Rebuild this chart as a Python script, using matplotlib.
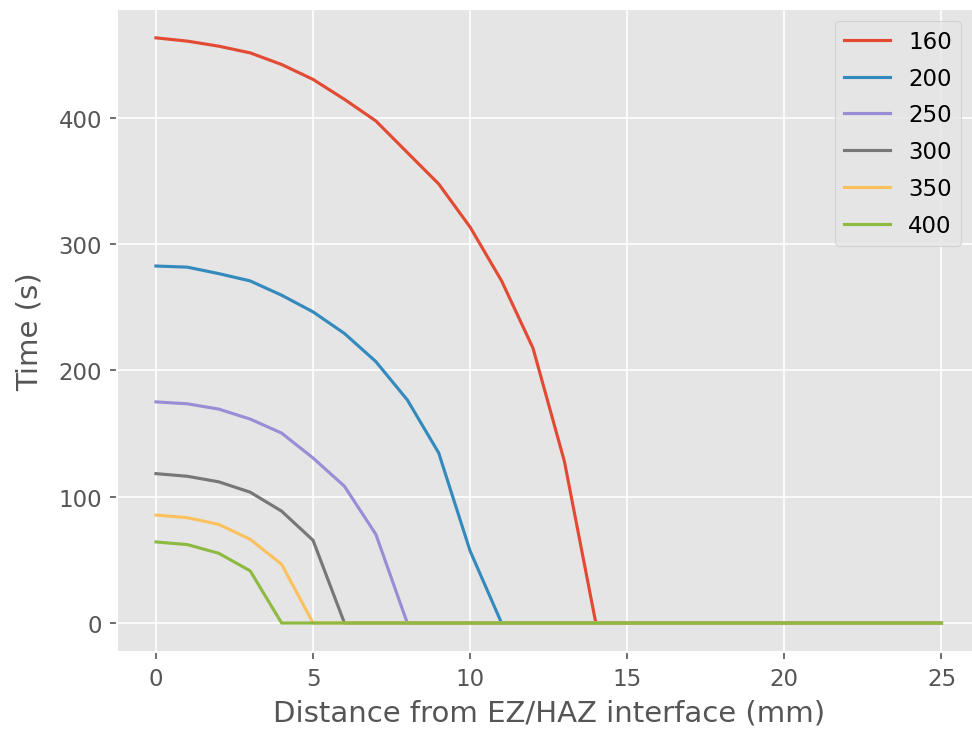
import numpy as np
import matplotlib
matplotlib.use("Agg")
import matplotlib.pyplot as plt

plt.style.use("ggplot")

# distance from the EZ/HAZ interface (mm)
dist = np.arange(0, 26)

# time (s) per series; zero beyond the last point
t160 = [463.4, 460.8, 456.8, 451.5, 442.3, 430.5, 414.7, 397.6, 372.6, 347.7,
        313.5, 271, 217.7, 128]
t200 = [282.7, 281.8, 276.7, 270.9, 259.6, 246.4, 229.3, 207, 176.7, 134.7, 57]
t250 = [175.1, 173.6, 169.4, 161.5, 150.4, 130.7, 108.3, 70.2]
t300 = [118.3, 116.2, 111.8, 103.6, 88.6, 65.5]
t350 = [85.5, 83.4, 78.1, 66.3, 46.5]
t400 = [64.2, 62.1, 55.2, 41.3]

labels = ["160", "200", "250", "300", "350", "400"]
series = [t160, t200, t250, t300, t350, t400]


def pad(vals):
    out = np.zeros(len(dist))
    out[:len(vals)] = vals
    return out


fig = plt.figure(figsize=(6.48, 4.893), dpi=150)
ax = fig.add_axes([0.120, 0.110, 0.889, 0.877])
for lab, vals in zip(labels, series):
    ax.plot(dist, pad(vals), label=lab)

ax.set_xlabel("Distance from EZ/HAZ interface (mm)", fontsize=14)
ax.set_ylabel("Time (s)", fontsize=14, labelpad=7)
ax.tick_params(labelsize=11)
ax.legend(fontsize=11, labelspacing=0.6, loc="upper left",
          bbox_to_anchor=(0.831, 0.981), borderaxespad=0)

fig.savefig("out.png", dpi=150)
